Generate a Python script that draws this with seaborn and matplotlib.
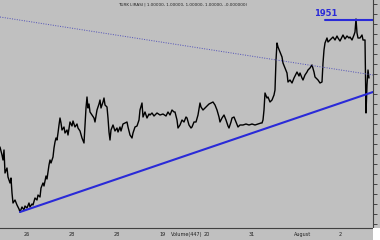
import numpy as np
import pandas as pd
import matplotlib
matplotlib.use("Agg")
import matplotlib.pyplot as plt
import matplotlib.transforms as mtransforms
from matplotlib.patches import Rectangle
import seaborn as sns

# ---- data ----
bars = [0, 2, 3, 4, 5, 7, 8, 10, 11, 12, 13, 15, 17, 19, 20, 22, 24, 25, 27, 29,
        30, 32, 33, 35, 37, 38, 40, 41, 43, 44, 46, 47, 49, 50, 51, 53, 54, 55, 56, 57,
        58, 59, 60, 61, 62, 64, 65, 67, 68, 70, 72, 73, 75, 77, 78, 80, 82, 84, 85, 86,
        87, 88, 89, 90, 92, 94, 95, 97, 99, 100, 101, 103, 104, 105, 107, 108, 109, 110, 111, 113,
        115, 117, 118, 120, 121, 123, 125, 127, 128, 130, 132, 133, 135, 137, 139, 140, 142, 143, 145, 147,
        149, 150, 152, 154, 157, 160, 163, 166, 168, 170, 172, 174, 175, 177, 178, 180, 182, 184, 186, 187,
        189, 191, 192, 194, 196, 198, 200, 201, 203, 205, 207, 209, 211, 213, 215, 217, 219, 220, 222, 224,
        226, 228, 229, 231, 232, 234, 236, 238, 240, 243, 246, 249, 252, 255, 258, 261, 262, 263, 264, 265,
        267, 268, 270, 272, 274, 275, 276, 277, 278, 280, 282, 283, 285, 287, 288, 290, 292, 294, 296, 297,
        299, 300, 302, 303, 305, 307, 308, 310, 312, 314, 315, 317, 318, 320, 322, 323, 324, 325, 327, 328,
        330, 332, 333, 335, 337, 338, 340, 342, 343, 345, 347, 349, 350, 352, 354, 355, 356, 357, 358, 360,
        362, 363, 365, 366, 367, 368, 369]
price = [1632.5, 1612.5, 1600, 1625, 1567.5, 1580, 1557.5, 1542.5, 1555, 1517.5, 1492.5, 1500, 1487.5, 1477.5, 1470, 1482.5, 1475, 1485, 1480, 1492.5,
         1482.5, 1490, 1487.5, 1505, 1500, 1512.5, 1507.5, 1530, 1542.5, 1535, 1560, 1552.5, 1587.5, 1600, 1592.5, 1607.5, 1630, 1645, 1655, 1650,
         1667.5, 1687.5, 1705, 1692.5, 1675, 1682.5, 1667.5, 1675, 1662.5, 1695, 1685, 1697.5, 1682.5, 1690, 1680, 1672.5, 1655, 1642.5, 1687.5, 1730,
         1757.5, 1730, 1740, 1720, 1712.5, 1705, 1695, 1725, 1740, 1750, 1730, 1745, 1755, 1737.5, 1732.5, 1705, 1670, 1650, 1675, 1687.5,
         1672.5, 1680, 1670, 1682.5, 1672.5, 1690, 1692.5, 1695, 1682.5, 1662.5, 1655, 1667.5, 1682.5, 1685, 1700, 1725, 1742.5, 1707.5, 1720, 1705,
         1715, 1712.5, 1717.5, 1710, 1717.5, 1712.5, 1715, 1710, 1720, 1712.5, 1725, 1720, 1720, 1700, 1680, 1687.5, 1700, 1695, 1707.5, 1705,
         1687.5, 1680, 1682.5, 1695, 1695, 1712.5, 1742.5, 1732.5, 1725, 1730, 1735, 1740, 1742.5, 1745, 1737.5, 1725, 1707.5, 1695, 1705, 1712.5,
         1700, 1685, 1680, 1695, 1705, 1707.5, 1695, 1682.5, 1687.5, 1687.5, 1690, 1687.5, 1690, 1687.5, 1690, 1692.5, 1692.5, 1700, 1725, 1767.5,
         1755, 1757.5, 1745, 1750, 1762.5, 1775, 1850, 1892.5, 1882.5, 1870, 1857.5, 1842.5, 1830, 1817.5, 1795, 1800, 1792.5, 1805, 1815, 1820,
         1810, 1817.5, 1805, 1800, 1812.5, 1820, 1825, 1830, 1837.5, 1820, 1807.5, 1802.5, 1800, 1792.5, 1795, 1842.5, 1875, 1892.5, 1905, 1895,
         1900, 1905, 1907.5, 1900, 1910, 1905, 1897.5, 1907.5, 1912.5, 1902.5, 1910, 1905, 1907.5, 1900, 1912.5, 1920, 1952.5, 1917.5, 1905, 1905,
         1912.5, 1900, 1900, 1717.5, 1787.5, 1825, 1805]

support_bars = [20, 373]
support_vals = [1470, 1770]
resist_bars = [0, 373]
resist_vals = [1957.5, 1812.5]
level_bars = [325, 373]
level_vals = [1951, 1951]
level_label = "1951"

date_ticks = [22, 67, 112, 157, 202, 247, 292, 337]
date_labels = ["26", "28", "28", "19", "20", "31", "August", "2"]
header = "TURK LIRASI | 1.00000, 1.00000, 1.00000, 1.00000, -0.000000)"
volume_label = "Volume(447)"

# ---- style ----
BG = "#c0c0c0"
sns.set_style("white", {"axes.facecolor": BG, "figure.facecolor": BG})
plt.rcParams["font.family"] = ["DejaVu Sans"]

fig = plt.figure(figsize=(3.8, 2.4), dpi=100)
fig.patch.set_facecolor(BG)
ax = fig.add_axes([0, 0.05, 373 / 380, 0.95])
ax.set_facecolor(BG)

df = pd.DataFrame({"bar": bars, "price": price})
sns.lineplot(data=df, x="bar", y="price", ax=ax, color="black", lw=1.0,
             estimator=None, sort=False)

sup = pd.DataFrame({"bar": support_bars, "price": support_vals})
sns.lineplot(data=sup, x="bar", y="price", ax=ax, color="#2a2ad8", lw=1.5)
res = pd.DataFrame({"bar": resist_bars, "price": resist_vals})
sns.lineplot(data=res, x="bar", y="price", ax=ax, color="#5050b8", lw=0.7,
             linestyle=(0, (1, 1.5)))
lev = pd.DataFrame({"bar": level_bars, "price": level_vals})
sns.lineplot(data=lev, x="bar", y="price", ax=ax, color="#2a2ad8", lw=1.5)
ax.text(level_bars[0] + 1, level_vals[0] + 15, level_label, color="#2a2ad8",
        fontsize=6, fontweight="bold", ha="center", va="center")

ax.set_xlim(0, 373)
ax.set_ylim(1430, 2000)
ax.set_xlabel("")
ax.set_ylabel("")

for s in ["left", "top"]:
    ax.spines[s].set_visible(False)
for s in ["right", "bottom"]:
    ax.spines[s].set_color("#404040")
    ax.spines[s].set_linewidth(0.8)

ax.yaxis.tick_right()
ax.set_yticks(np.arange(1440, 2000, 25))
ax.tick_params(axis="y", direction="out", length=3, width=0.6, color="#303030",
               labelright=False, labelleft=False)
ax.set_xticks(date_ticks)
ax.set_xticklabels([])
ax.tick_params(axis="x", direction="out", length=6, width=0.6, color="#303030")
ax.xaxis.get_major_ticks()[3].tick1line.set_markeredgewidth(2.5)
ax.xaxis.get_major_ticks()[3].tick1line.set_color("black")

trans = mtransforms.blended_transform_factory(ax.transData, ax.transAxes)
for t, lab in zip(date_ticks, date_labels):
    ax.text(t + 2, -0.028, lab, transform=trans, fontsize=3.5, ha="left",
            va="center", color="#202020", clip_on=False)
ax.text(date_ticks[3] + 14, -0.028, volume_label, transform=trans, fontsize=3.5,
        ha="left", va="center", color="#202020", clip_on=False)

ax.text(0.49, 0.98, header, transform=ax.transAxes, fontsize=3, ha="center",
        va="center", color="#202020")

fig.add_artist(Rectangle((373 / 380, 0), 7 / 380, 12 / 240, transform=fig.transFigure,
                         facecolor="white", edgecolor="none"))

fig.savefig("out.png", dpi=100, facecolor=BG)
